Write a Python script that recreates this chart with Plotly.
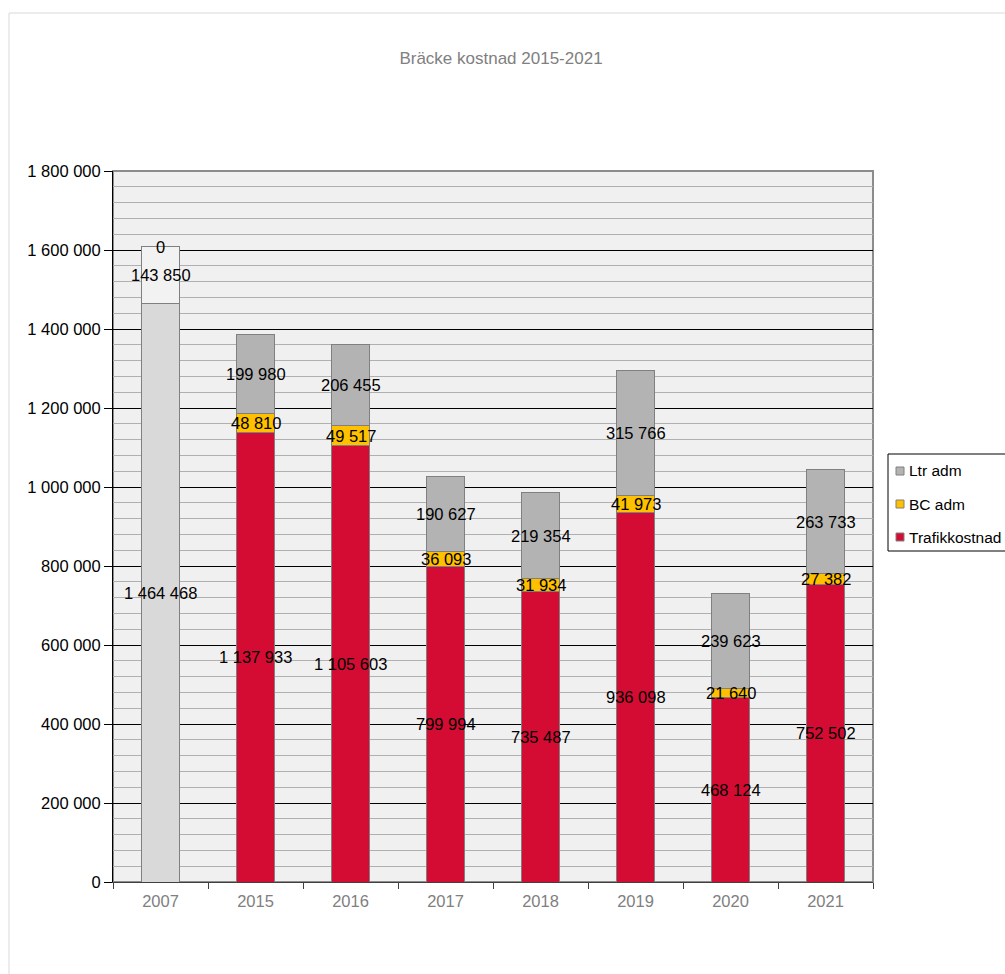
import plotly.graph_objects as go

years = ["2007", "2015", "2016", "2017", "2018", "2019", "2020", "2021"]
trafik = [1464468, 1137933, 1105603, 799994, 735487, 936098, 468124, 752502]
bc_adm = [143850, 48810, 49517, 36093, 31934, 41973, 21640, 27382]
ltr_adm = [0, 199980, 206455, 190627, 219354, 315766, 239623, 263733]
legend_names = ["Ltr adm", "BC adm", "Trafikkostnad"]

y_ticks = list(range(0, 1800001, 200000))

RED = "#D40C34"
YEL = "#FFC000"
GRY = "#B3B3B3"
EDGE = "#808080"
FONT = "Arial, Liberation Sans, sans-serif"

# plot-area pixel geometry (for converting legend pixel positions to paper coords)
L, R, T, B = 113, 873, 171, 882


def px(x):
    return (x - L) / (R - L)


def py(y):
    return (B - y) / (B - T)


def fmt(v):
    return f"{v:,}".replace(",", " ")


fig = go.Figure()
fig.add_trace(go.Bar(x=years[:1], y=trafik[:1], showlegend=False,
                     marker=dict(color="#D9D9D9", line=dict(color=EDGE, width=1))))
fig.add_trace(go.Bar(x=years[1:], y=trafik[1:], name="Trafikkostnad", showlegend=False,
                     marker=dict(color=RED, line=dict(color=EDGE, width=1))))
fig.add_trace(go.Bar(x=years[:1], y=bc_adm[:1], showlegend=False,
                     marker=dict(color="#F2F2F2", line=dict(color=EDGE, width=1))))
fig.add_trace(go.Bar(x=years[1:], y=bc_adm[1:], name="BC adm", showlegend=False,
                     marker=dict(color=YEL, line=dict(color=EDGE, width=1))))
fig.add_trace(go.Bar(x=years, y=ltr_adm, name="Ltr adm", showlegend=False,
                     marker=dict(color=GRY, line=dict(color=EDGE, width=1))))

annotations = []
for i, yr in enumerate(years):
    t, b, l = trafik[i], bc_adm[i], ltr_adm[i]
    for val, mid in ((t, t / 2), (b, t + b / 2), (l, t + b + l / 2)):
        annotations.append(dict(x=i, y=mid, text=fmt(val), showarrow=False,
                                font=dict(family=FONT, size=16.5, color="black"),
                                xref="x", yref="y"))

shapes = [
    dict(type="rect", xref="paper", yref="paper", x0=0, x1=1, y0=0, y1=1,
         line=dict(color="#8C8C8C", width=2), layer="below"),
    dict(type="rect", xref="paper", yref="paper",
         x0=px(9), x1=px(1020), y0=py(990), y1=py(13),
         line=dict(color="#D9D9D9", width=1)),
    # legend box
    dict(type="rect", xref="paper", yref="paper",
         x0=px(888), x1=px(1012), y0=py(551), y1=py(454),
         line=dict(color="black", width=1), fillcolor="white"),
]

legend_colors = [GRY, YEL, RED]
for k, (name, col) in enumerate(zip(legend_names, legend_colors)):
    cy = 471 + 33 * k
    shapes.append(dict(type="rect", xref="paper", yref="paper",
                       x0=px(896), x1=px(904), y0=py(cy + 4), y1=py(cy - 4),
                       line=dict(color=EDGE, width=1), fillcolor=col))
    annotations.append(dict(x=px(907), y=py(cy), xref="paper", yref="paper",
                            text=name, showarrow=False, xanchor="left", yanchor="middle",
                            font=dict(family=FONT, size=15.5, color="black")))

fig.update_layout(
    width=1005, height=974,
    margin=dict(l=L, r=1005 - R, t=T, b=974 - B, autoexpand=False),
    paper_bgcolor="white",
    plot_bgcolor="#F0F0F0",
    barmode="stack",
    bargap=0.6,
    title=dict(text="Bräcke kostnad 2015-2021", x=0.4985, xanchor="center",
               y=1 - 58 / 974, yanchor="middle", yref="container",
               font=dict(family=FONT, size=17, color="#808080")),
    font=dict(family=FONT, size=16.5, color="black"),
    showlegend=False,
    annotations=annotations,
    shapes=shapes,
)

fig.update_xaxes(
    type="category", categoryorder="array", categoryarray=years,
    range=[-0.5, len(years) - 0.5], autorange=False,
    tickson="boundaries", ticks="outside", ticklen=6, tickcolor="#404040",
    showline=True, linecolor="#404040", linewidth=1,
    tickfont=dict(family=FONT, size=16.5, color="#808080"),
    ticklabelstandoff=4,
    showgrid=False, tickangle=0,
)
fig.update_yaxes(
    range=[0, 1800000], autorange=False,
    tickvals=y_ticks, ticktext=[fmt(v) for v in y_ticks],
    ticks="outside", ticklen=8, tickcolor="black",
    showline=True, linecolor="black", linewidth=1,
    showgrid=True, gridcolor="black", gridwidth=1,
    minor=dict(dtick=40000, showgrid=True, gridcolor="#B0B0B0", gridwidth=1, ticks=""),
    tickfont=dict(family=FONT, size=16.5, color="black"),
    zeroline=False,
)

fig.write_html("out.html")
